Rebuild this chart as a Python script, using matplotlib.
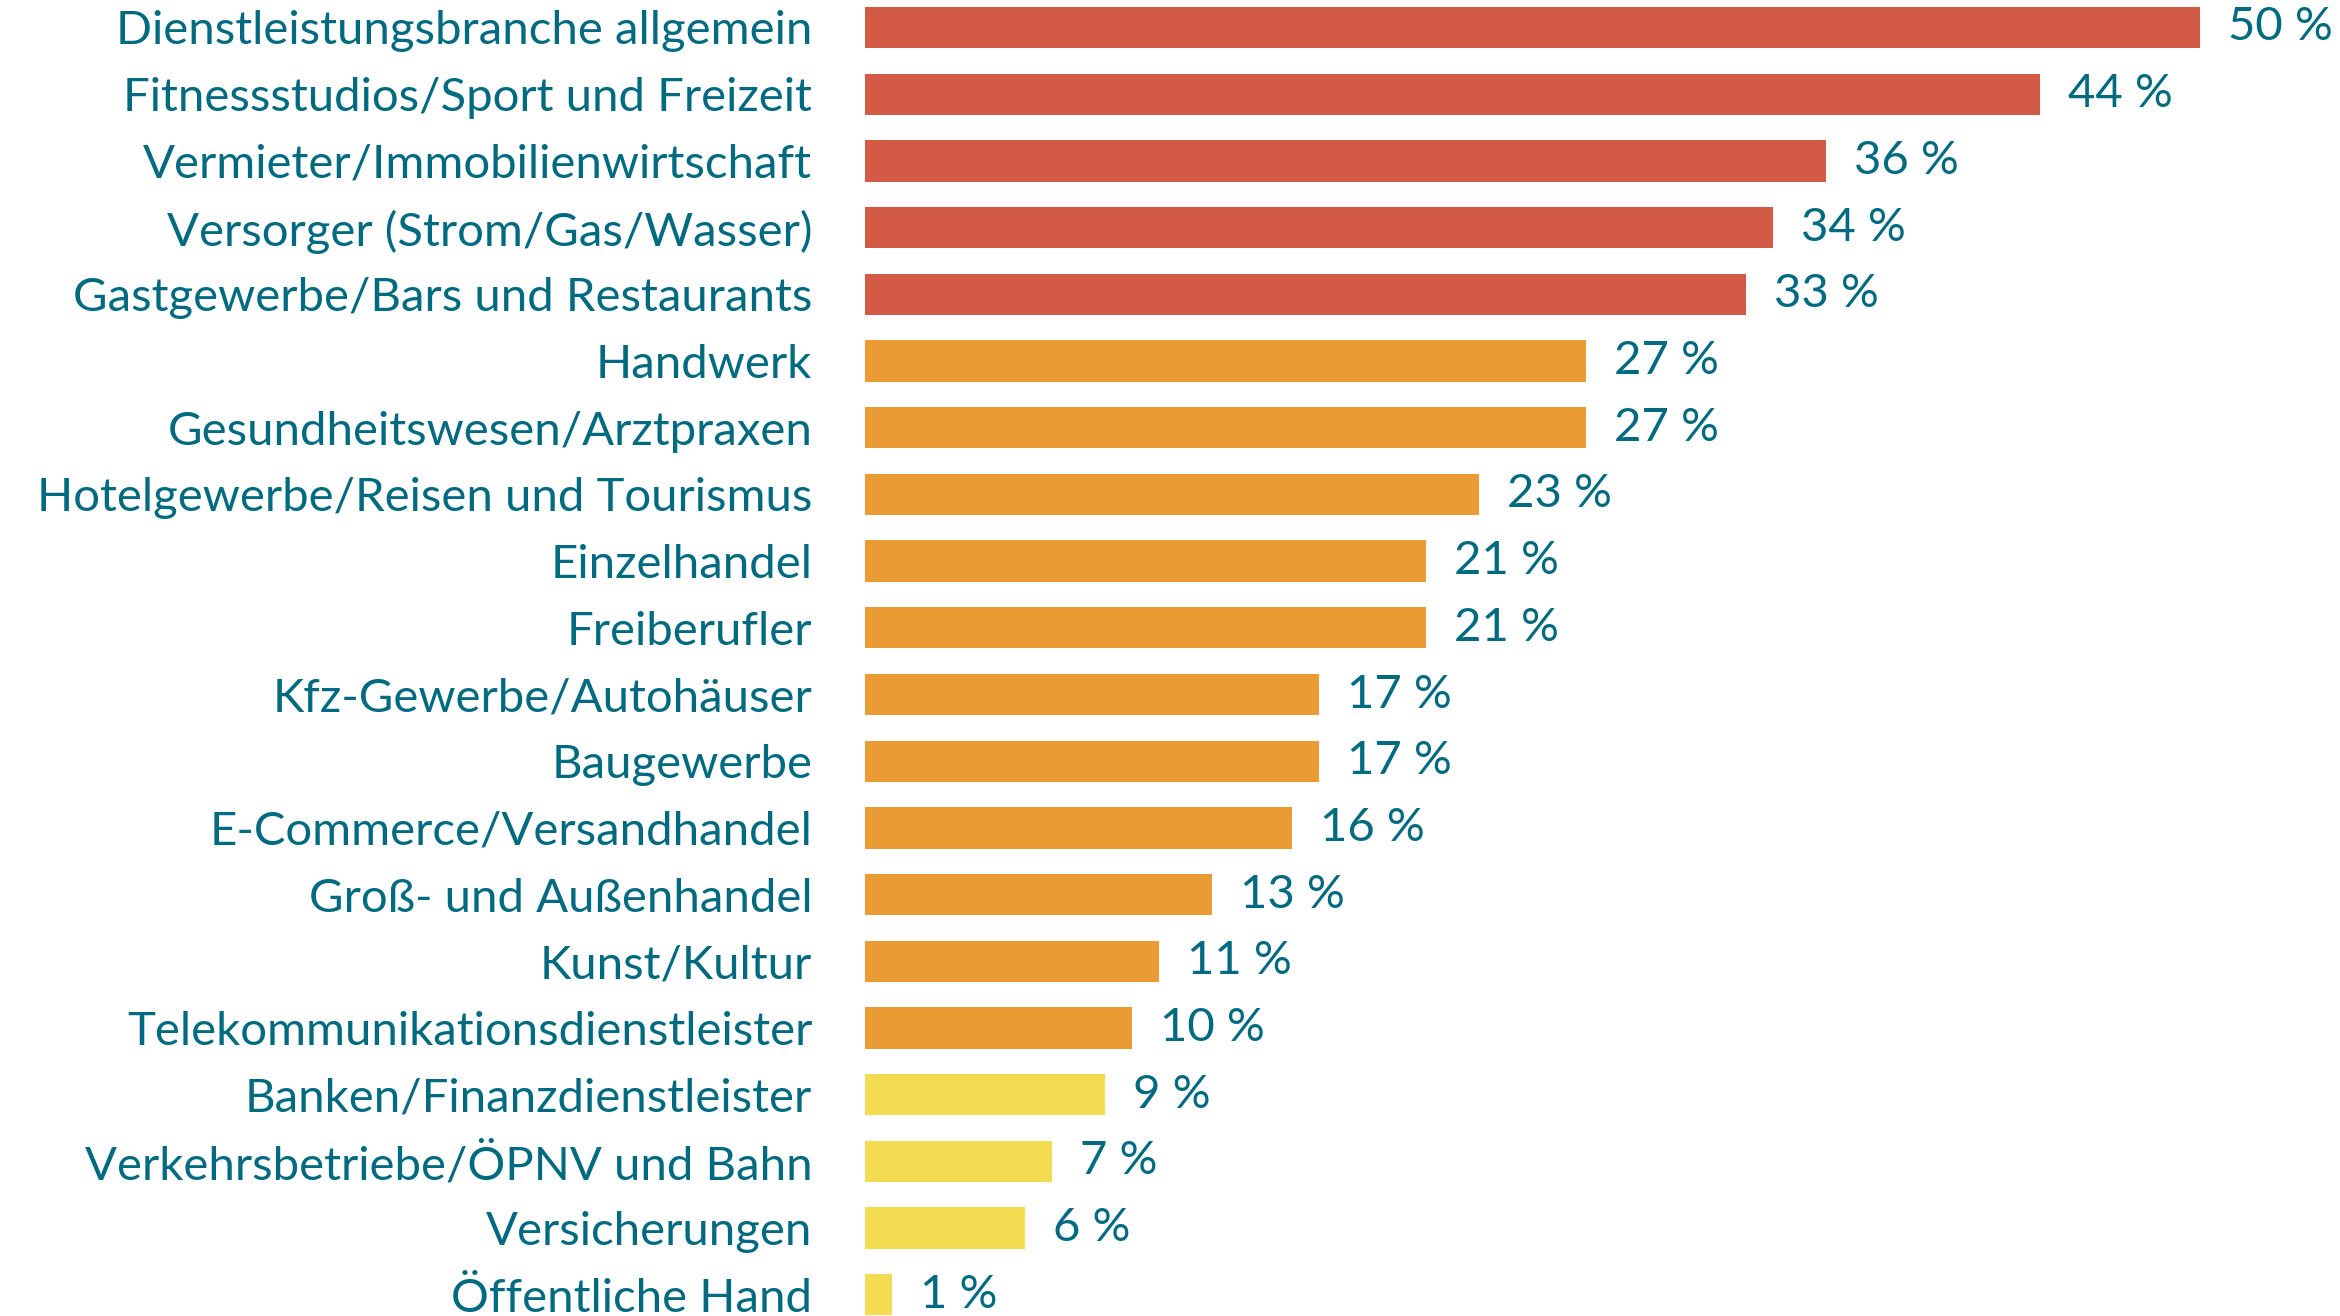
import matplotlib
matplotlib.use("Agg")
import matplotlib.pyplot as plt

categories = [
    "Dienstleistungsbranche allgemein",
    "Fitnessstudios/Sport und Freizeit",
    "Vermieter/Immobilienwirtschaft",
    "Versorger (Strom/Gas/Wasser)",
    "Gastgewerbe/Bars und Restaurants",
    "Handwerk",
    "Gesundheitswesen/Arztpraxen",
    "Hotelgewerbe/Reisen und Tourismus",
    "Einzelhandel",
    "Freiberufler",
    "Kfz-Gewerbe/Autohäuser",
    "Baugewerbe",
    "E-Commerce/Versandhandel",
    "Groß- und Außenhandel",
    "Kunst/Kultur",
    "Telekommunikationsdienstleister",
    "Banken/Finanzdienstleister",
    "Verkehrsbetriebe/ÖPNV und Bahn",
    "Versicherungen",
    "Öffentliche Hand",
]
values = [50, 44, 36, 34, 33, 27, 27, 23, 21, 21, 17, 17, 16, 13, 11, 10, 9, 7, 6, 1]
groups = ["high"] * 5 + ["mid"] * 11 + ["low"] * 4

group_colors = {"high": "#D35A45", "mid": "#EB9B33", "low": "#F4DC52"}
text_color = "#006A80"

plt.rcParams["font.family"] = ["Lato", "DejaVu Sans"]

W, H, DPI = 2340, 1316, 100
fig = plt.figure(figsize=(W / DPI, H / DPI), dpi=DPI)

# pixel geometry of the bar area
x0_px, px_per_unit = 865, 26.7
row0_px, row_step = 27.5, 66.7
ax = fig.add_axes([x0_px / W, 0, 1 - x0_px / W, 1])
ax.set_xlim(0, (W - x0_px) / px_per_unit)
ax.set_ylim((H - row0_px) / row_step, -row0_px / row_step)

ypos = list(range(len(categories)))
ax.barh(ypos, values, height=0.62, color=[group_colors[g] for g in groups])

for y, v in zip(ypos, values):
    ax.text(v + 28 / px_per_unit, y, f"{v} %", va="center", ha="left",
            fontsize=34, color=text_color)

ax.set_yticks(ypos)
ax.set_yticklabels(categories, fontsize=34, color=text_color)
ax.tick_params(axis="y", length=0, pad=38)
ax.set_xticks([])
for s in ax.spines.values():
    s.set_visible(False)

fig.savefig("out.png", dpi=DPI)
